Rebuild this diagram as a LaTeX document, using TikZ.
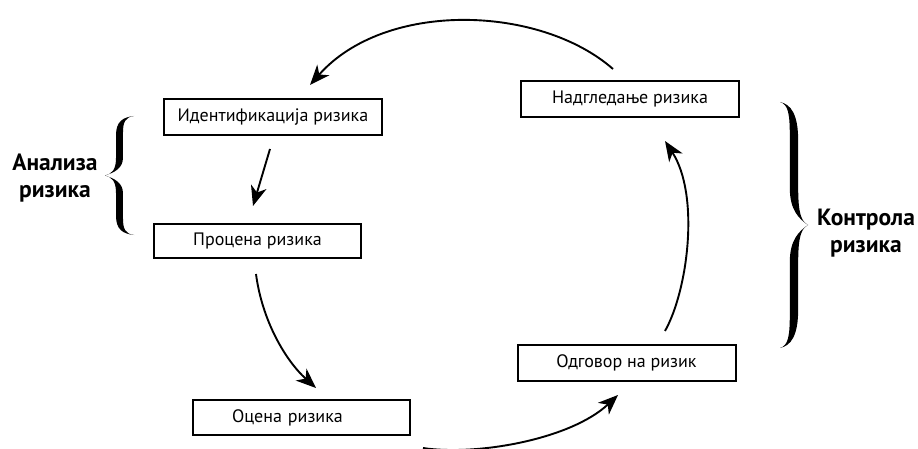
\documentclass[tikz,border=0pt]{standalone}
\usepackage{fontspec}
\setmainfont{PT Sans}
\usetikzlibrary{arrows.meta,calc}
\tikzset{
  % calligraphic curly brace, tip at the origin, arms ending at (1,+-1);
  % the argument is the half thickness of the stem
  pics/calbrace/.style={code={
    \foreach \s in {1,-1}{
      \fill[yscale=\s]
        (1,1) .. controls (0.6,0.98) and ({0.5-#1},0.9) .. ({0.5-#1},0.68)
        -- ({0.5-#1},0.3) .. controls ({0.5-#1},0.1) and (0.25,0.03) .. (0,0)
        .. controls (0.32,0.05) and ({0.5+#1},0.12) .. ({0.5+#1},0.3)
        -- ({0.5+#1},0.72) .. controls ({0.5+#1},0.9) and (0.7,0.98) .. (1,1)
        -- cycle;
    }
  }}
}
\begin{document}
\begin{tikzpicture}[x=1pt,y=-1pt,
  stage/.style={draw, line width=2pt, minimum width=218pt, minimum height=36pt,
    inner sep=0pt, font=\fontsize{18}{21}\selectfont},
  flow/.style={line width=1.9pt, -{Stealth[length=20pt,width=16pt,inset=6pt]}},
  group/.style={font=\bfseries\fontsize{23.5}{27}\selectfont, align=center}]
\useasboundingbox (0,0) rectangle (918,449);

% process stages
\node[stage] (ident) at (273,117) {Идентификација ризика};
\node[stage, minimum width=207pt, minimum height=34pt] (proc) at (257.5,241) {Процена ризика};
\node[stage, minimum width=217pt, minimum height=35pt, inner xsep=39pt,
      text width=139pt, align=left] (oc) at (301.5,417.5) {Оцена ризика};
\node[stage] (odg) at (626.5,363) {Одговор на ризик};
\node[stage] (mon) at (630,99) {Надгледање ризика};

% group labels
\node[group] (analiza) at (55,178) {Анализа\\ризика};
\node[group] (kontrola) at (866,233) {Контрола\\ризика};

% braces
\pic[xscale=29, yscale=59.5] at (105,175.5) {calbrace=0.12};
\pic[xscale=-28, yscale=123] at (808,225) {calbrace=0.15};

% cycle arrows
\draw[flow] ($(mon.north)+(-17,-11)$) .. controls (540,5) and (385,0) .. ($(ident.north)+(37,-13)$);
\draw[flow] ($(ident.south)+(-3,13)$) -- ($(proc.north)+(-4.5,-17)$);
\draw[flow] ($(proc.south)+(-1.5,15)$) .. controls (262,320) and (285,360) .. ($(oc.north)+(14.5,-11)$);
\draw[flow] ($(oc.south east)+(12,12)$) .. controls (475,456) and (570,440) .. ($(odg.south)+(-8.5,13)$);
\draw[flow] ($(odg.north)+(38.5,-13)$) .. controls (688,290) and (700,195) .. ($(mon.south)+(35,23)$);
\end{tikzpicture}
\end{document}
